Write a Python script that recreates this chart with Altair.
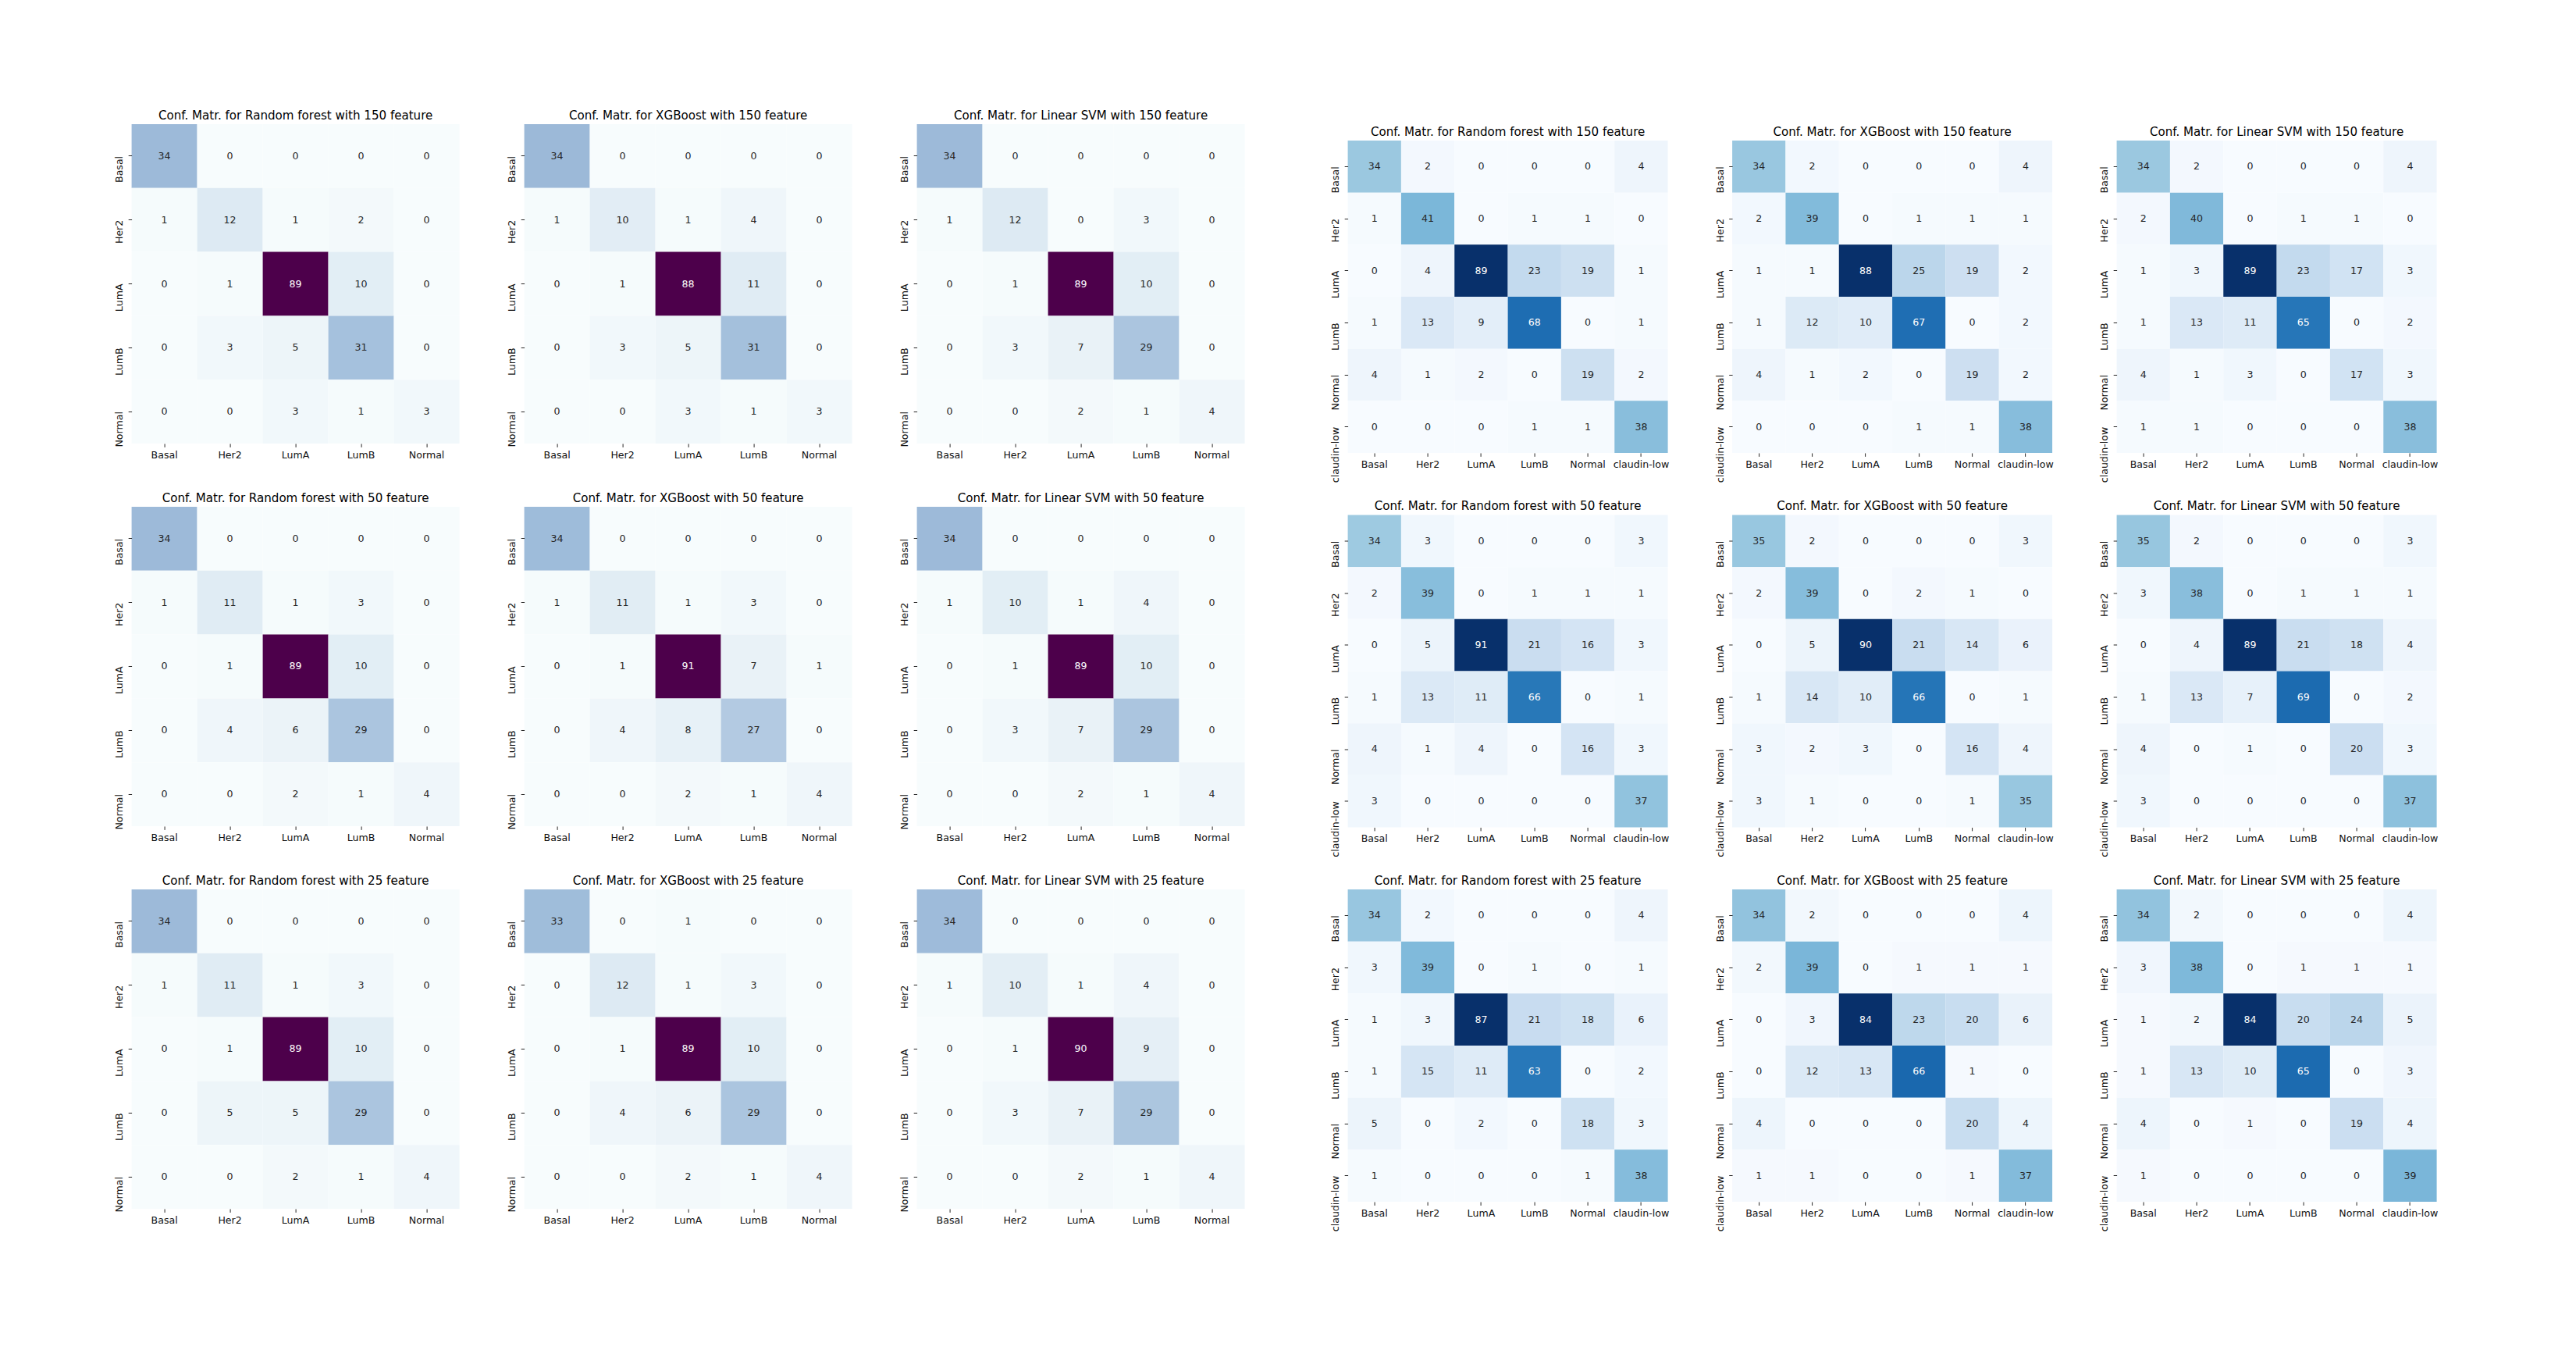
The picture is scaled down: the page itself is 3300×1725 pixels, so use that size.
import altair as alt
import pandas as pd

CLASSES5 = ["Basal", "Her2", "LumA", "LumB", "Normal"]
CLASSES6 = ["Basal", "Her2", "LumA", "LumB", "Normal", "claudin-low"]
MODELS = ["Random forest", "XGBoost", "Linear SVM"]
FEATURES = [150, 50, 25]

# ---- left block (5 classes) rows: 150, 50, 25 features; cols: RF, XGB, SVM
L_RF_150 = [[34, 0, 0, 0, 0], [1, 12, 1, 2, 0], [0, 1, 89, 10, 0], [0, 3, 5, 31, 0], [0, 0, 3, 1, 3]]
L_XGB_150 = [[34, 0, 0, 0, 0], [1, 10, 1, 4, 0], [0, 1, 88, 11, 0], [0, 3, 5, 31, 0], [0, 0, 3, 1, 3]]
L_SVM_150 = [[34, 0, 0, 0, 0], [1, 12, 0, 3, 0], [0, 1, 89, 10, 0], [0, 3, 7, 29, 0], [0, 0, 2, 1, 4]]
L_RF_50 = [[34, 0, 0, 0, 0], [1, 11, 1, 3, 0], [0, 1, 89, 10, 0], [0, 4, 6, 29, 0], [0, 0, 2, 1, 4]]
L_XGB_50 = [[34, 0, 0, 0, 0], [1, 11, 1, 3, 0], [0, 1, 91, 7, 1], [0, 4, 8, 27, 0], [0, 0, 2, 1, 4]]
L_SVM_50 = [[34, 0, 0, 0, 0], [1, 10, 1, 4, 0], [0, 1, 89, 10, 0], [0, 3, 7, 29, 0], [0, 0, 2, 1, 4]]
L_RF_25 = [[34, 0, 0, 0, 0], [1, 11, 1, 3, 0], [0, 1, 89, 10, 0], [0, 5, 5, 29, 0], [0, 0, 2, 1, 4]]
L_XGB_25 = [[33, 0, 1, 0, 0], [0, 12, 1, 3, 0], [0, 1, 89, 10, 0], [0, 4, 6, 29, 0], [0, 0, 2, 1, 4]]
L_SVM_25 = [[34, 0, 0, 0, 0], [1, 10, 1, 4, 0], [0, 1, 90, 9, 0], [0, 3, 7, 29, 0], [0, 0, 2, 1, 4]]

# ---- right block (6 classes)
R_RF_150 = [[34, 2, 0, 0, 0, 4], [1, 41, 0, 1, 1, 0], [0, 4, 89, 23, 19, 1], [1, 13, 9, 68, 0, 1], [4, 1, 2, 0, 19, 2], [0, 0, 0, 1, 1, 38]]
R_XGB_150 = [[34, 2, 0, 0, 0, 4], [2, 39, 0, 1, 1, 1], [1, 1, 88, 25, 19, 2], [1, 12, 10, 67, 0, 2], [4, 1, 2, 0, 19, 2], [0, 0, 0, 1, 1, 38]]
R_SVM_150 = [[34, 2, 0, 0, 0, 4], [2, 40, 0, 1, 1, 0], [1, 3, 89, 23, 17, 3], [1, 13, 11, 65, 0, 2], [4, 1, 3, 0, 17, 3], [1, 1, 0, 0, 0, 38]]
R_RF_50 = [[34, 3, 0, 0, 0, 3], [2, 39, 0, 1, 1, 1], [0, 5, 91, 21, 16, 3], [1, 13, 11, 66, 0, 1], [4, 1, 4, 0, 16, 3], [3, 0, 0, 0, 0, 37]]
R_XGB_50 = [[35, 2, 0, 0, 0, 3], [2, 39, 0, 2, 1, 0], [0, 5, 90, 21, 14, 6], [1, 14, 10, 66, 0, 1], [3, 2, 3, 0, 16, 4], [3, 1, 0, 0, 1, 35]]
R_SVM_50 = [[35, 2, 0, 0, 0, 3], [3, 38, 0, 1, 1, 1], [0, 4, 89, 21, 18, 4], [1, 13, 7, 69, 0, 2], [4, 0, 1, 0, 20, 3], [3, 0, 0, 0, 0, 37]]
R_RF_25 = [[34, 2, 0, 0, 0, 4], [3, 39, 0, 1, 0, 1], [1, 3, 87, 21, 18, 6], [1, 15, 11, 63, 0, 2], [5, 0, 2, 0, 18, 3], [1, 0, 0, 0, 1, 38]]
R_XGB_25 = [[34, 2, 0, 0, 0, 4], [2, 39, 0, 1, 1, 1], [0, 3, 84, 23, 20, 6], [0, 12, 13, 66, 1, 0], [4, 0, 0, 0, 20, 4], [1, 1, 0, 0, 1, 37]]
R_SVM_25 = [[34, 2, 0, 0, 0, 4], [3, 38, 0, 1, 1, 1], [1, 2, 84, 20, 24, 5], [1, 13, 10, 65, 0, 3], [4, 0, 1, 0, 19, 4], [1, 0, 0, 0, 0, 39]]

LEFT = [[L_RF_150, L_XGB_150, L_SVM_150], [L_RF_50, L_XGB_50, L_SVM_50], [L_RF_25, L_XGB_25, L_SVM_25]]
RIGHT = [[R_RF_150, R_XGB_150, R_SVM_150], [R_RF_50, R_XGB_50, R_SVM_50], [R_RF_25, R_XGB_25, R_SVM_25]]

BUPU = ["#f7fcfd", "#e0ecf4", "#bfd3e6", "#9ebcda", "#8c96c6", "#8c6bb1", "#88419d", "#810f7c", "#4d004b"]
BLUES = ["#f7fbff", "#deebf7", "#c6dbef", "#9ecae1", "#6baed6", "#4292c6", "#2171b5", "#08519c", "#08306b"]

FONT = "DejaVu Sans"
TICK_FS = 12.6
TITLE_FS = 15.1


def hex2rgb(h):
    return [int(h[i:i + 2], 16) / 255 for i in (1, 3, 5)]


def cmap(colors, t):
    t = min(max(t, 0.0), 1.0) * (len(colors) - 1)
    i = min(int(t), len(colors) - 2)
    f = t - i
    a, b = hex2rgb(colors[i]), hex2rgb(colors[i + 1])
    return [a[k] + (b[k] - a[k]) * f for k in range(3)]


def lum(rgb):
    c = [x / 12.92 if x <= 0.03928 else ((x + 0.055) / 1.055) ** 2.4 for x in rgb]
    return 0.2126 * c[0] + 0.7152 * c[1] + 0.0722 * c[2]


def panel(mat, classes, colors, title, w, h):
    rows = []
    for i, t in enumerate(classes):
        for j, p in enumerate(classes):
            rows.append({"true": t, "pred": p, "v": mat[i][j]})
    df = pd.DataFrame(rows)
    vmax = max(max(r) for r in mat)
    dom = [vmax * k / 8 for k in range(9)]
    thr = vmax + 1
    for v in range(vmax + 1):
        if lum(cmap(colors, v / vmax)) <= 0.408:
            thr = v
            break
    base = alt.Chart(df).encode(
        x=alt.X("pred:N", sort=classes, scale=alt.Scale(paddingInner=0, paddingOuter=0),
                axis=alt.Axis(title=None, labelAngle=0, domain=False, grid=False, tickSize=4.4,
                              tickColor="#262626", tickWidth=1, labelPadding=4.0, labelFont=FONT,
                              labelFontSize=TICK_FS, labelColor="#111111", labelOverlap=False)),
        y=alt.Y("true:N", sort=classes, scale=alt.Scale(paddingInner=0, paddingOuter=0),
                axis=alt.Axis(title=None, labelAngle=270, labelAlign="right", labelBaseline="bottom",
                              domain=False, grid=False, tickSize=4.4, tickColor="#262626", tickWidth=1,
                              labelPadding=4.4, labelFont=FONT, labelFontSize=TICK_FS,
                              labelColor="#111111", labelOverlap=False)),
    )
    rect = base.mark_rect().encode(
        color=alt.Color("v:Q", scale=alt.Scale(domain=dom, range=colors, interpolate="rgb"), legend=None)
    )
    text = base.mark_text(font=FONT, fontSize=TICK_FS).encode(
        text="v:Q",
        color=alt.condition(f"datum.v >= {thr}", alt.value("#ffffff"), alt.value("#262626")),
    )
    return alt.layer(rect, text).properties(
        width=w, height=h,
        title=alt.TitleParams(title, font=FONT, fontSize=TITLE_FS, fontWeight="normal",
                              color="#000000", offset=3, anchor="middle"),
    )


def group(mats, classes, colors, w, h, col_sp, row_sp):
    panels = []
    for r, feat in enumerate(FEATURES):
        for c, model in enumerate(MODELS):
            panels.append(panel(mats[r][c], classes, colors,
                                f"Conf. Matr. for {model} with {feat} feature", w, h))
    return alt.concat(*panels, columns=3, spacing={"row": row_sp, "column": col_sp},
                      bounds="flush").resolve_scale(color="independent", x="independent",
                                                    y="independent")


left = group(LEFT, CLASSES5, BUPU, 420, 409, 83, 81)
right_grid = group(RIGHT, CLASSES6, BLUES, 410, 400, 82.5, 79.5)

# invisible spacer that pushes the right block down relative to the left block
spacer = alt.Chart(pd.DataFrame({"s": [0]})).mark_rect(opacity=0).encode(
    x=alt.value(0), x2=alt.value(1), y=alt.value(0), y2=alt.value(21)
).properties(width=1, height=21)

right = alt.vconcat(spacer, right_grid, spacing=0, bounds="flush").resolve_scale(
    color="independent", x="independent", y="independent")

chart = (
    alt.hconcat(left, right, spacing=110)
    .resolve_scale(color="independent", x="independent", y="independent")
    .properties(padding={"left": 146.6, "top": 140, "right": 20, "bottom": 20}, background="white")
    .configure_view(strokeOpacity=0)
)

chart.save("out.html", embed_options={"renderer": "svg", "actions": False})
